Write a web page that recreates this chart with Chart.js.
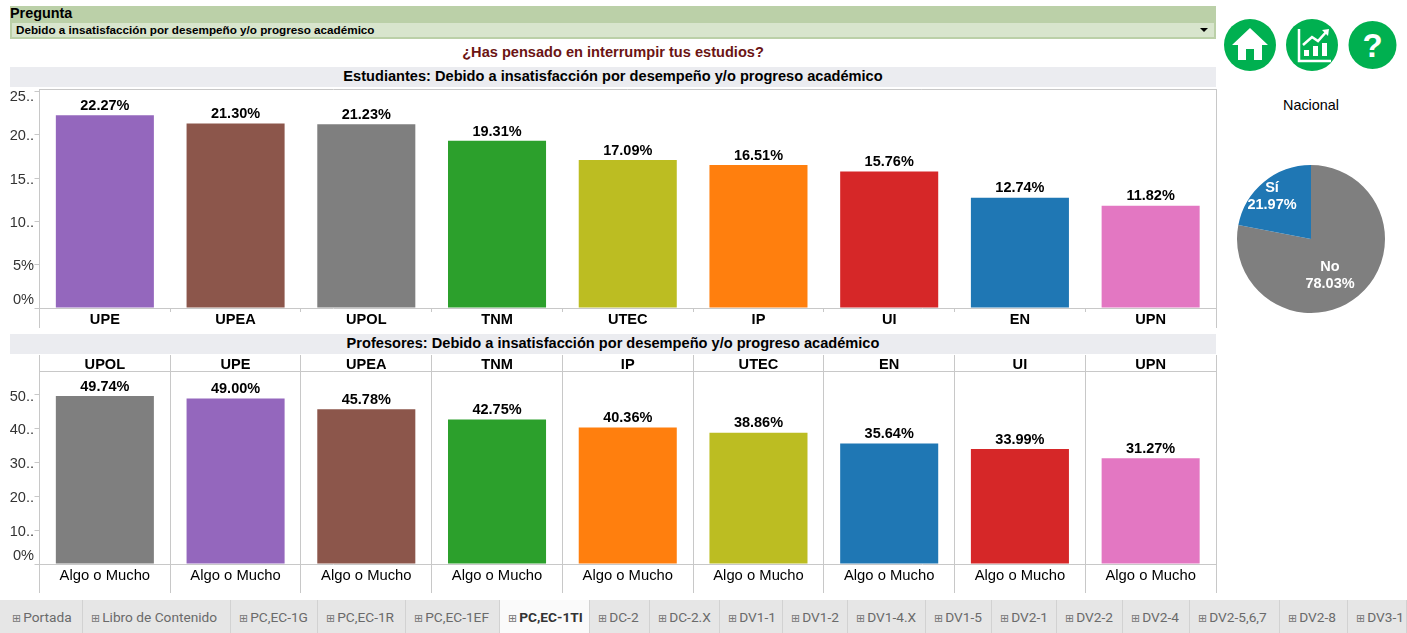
<!DOCTYPE html>
<html lang="es">
<head>
<meta charset="utf-8">
<title>PC,EC-1TI</title>
<script src="https://cdn.jsdelivr.net/npm/chart.js@4"></script>
<style>
  html, body { margin: 0; padding: 0; background: #fff; overflow: hidden; }
  body { width: 1407px; height: 633px; position: relative; font-family: "Liberation Sans", Arial, sans-serif; color: #000; }
  .abs { position: absolute; }
  canvas { position: absolute; display: block; }
  #filter { left: 10px; top: 6px; width: 1206px; height: 33px; background: #bbd0a8; }
  #filterName { left: 0; top: 0; font-weight: bold; font-size: 14.4px; line-height: 15px; }
  #filterBox { left: 2px; top: 17px; width: 1202px; height: 14px; background: #d8e5cd; font-weight: bold; font-size: 11.7px; line-height: 14px; text-indent: 4px; }
  #filterArrow { right: 6px; top: 5px; width: 0; height: 0; border: 4px solid transparent; border-top: 4px solid #000; border-bottom: 0; }
  #mainTitle { left: 10px; top: 44px; width: 1206px; text-align: center; font-weight: bold; font-size: 14.6px; line-height: 17px; color: #6b1414; }
  .band { left: 10px; width: 1206px; height: 20px; background: #ebecf0; text-align: center; font-weight: bold; font-size: 14.6px; line-height: 18px; }
  #nacional { left: 1222px; top: 97px; width: 178px; text-align: center; font-size: 14.4px; line-height: 16px; }
  #tabs { left: 0; top: 600px; width: 1407px; height: 33px; background: #e6e6e6; }
  .tab { position: absolute; top: 0; height: 33px; box-sizing: border-box; border-right: 1px solid #d2d2d2; font-family: Roboto, sans-serif; font-size: 13.7px; line-height: 35px; color: #6a6a6a; white-space: nowrap; overflow: hidden; padding-left: 8px; }
  .tab.active { background: #fafafa; color: #333; font-weight: bold; }
  .tab i { font-family: "DejaVu Sans"; font-style: normal; font-weight: normal; font-size: 11px; margin-right: 2px; color: #777; }
</style>
</head>
<body>
<div id="filter" class="abs">
  <div id="filterName" class="abs">Pregunta</div>
  <div id="filterBox" class="abs">Debido a insatisfacción por desempeño y/o progreso académico<div id="filterArrow" class="abs"></div></div>
</div>
<div id="mainTitle" class="abs">¿Has pensado en interrumpir tus estudios?</div>
<div class="abs band" style="top:67px">Estudiantes: Debido a insatisfacción por desempeño y/o progreso académico</div>
<div class="abs band" style="top:334px">Profesores: Debido a insatisfacción por desempeño y/o progreso académico</div>

<svg class="abs" style="left:1222px;top:17px" width="180" height="56" viewBox="0 0 180 56">
  <circle cx="28" cy="28" r="26" fill="#00b050"/>
  <path d="M28 11 L46 28 L40 28 L40 43 L32 43 L32 32 L24 32 L24 43 L16 43 L16 28 L10 28 Z" fill="#fff"/>
  <circle cx="90" cy="28" r="26" fill="#00b050"/>
  <path d="M77 12 V44 H109" fill="none" stroke="#fff" stroke-width="2.5"/>
  <path d="M82 39 V33 H87 V39 Z M91 39 V29 H96 V39 Z M100 39 V26 H105 V39 Z" fill="#fff"/>
  <path d="M81 28 L90 20 L96 24 L105 14" fill="none" stroke="#fff" stroke-width="2.5"/>
  <path d="M100 13 L107 12 L106 19 Z" fill="#fff"/>
  <circle cx="150.5" cy="28" r="24" fill="#00b050"/>
  <text x="150.5" y="40" text-anchor="middle" font-family="Liberation Sans" font-weight="bold" font-size="33" fill="#fff">?</text>
</svg>
<div id="nacional" class="abs">Nacional</div>

<canvas id="studentsChart" width="1220" height="243" style="left:0;top:85px"></canvas>
<canvas id="teachersChart" width="1220" height="241" style="left:0;top:352px"></canvas>
<canvas id="nationalChart" width="178" height="178" style="left:1222px;top:150px"></canvas>

<div id="tabs" class="abs"></div>

<script>
// Estudiantes
const studentLabels = ['UPE', 'UPEA', 'UPOL', 'TNM', 'UTEC', 'IP', 'UI', 'EN', 'UPN'];
const studentValues = [22.27, 21.30, 21.23, 19.31, 17.09, 16.51, 15.76, 12.74, 11.82];
// Profesores
const teacherLabels = ['UPOL', 'UPE', 'UPEA', 'TNM', 'IP', 'UTEC', 'EN', 'UI', 'UPN'];
const teacherValues = [49.74, 49.00, 45.78, 42.75, 40.36, 38.86, 35.64, 33.99, 31.27];
const teacherAnswer = 'Algo o Mucho';
// Nacional
const nationalLabels = ['No', 'Sí'];
const nationalValues = [78.03, 21.97];

const studentTicks = { 0: '0%', 5: '5%', 10: '10..', 15: '15..', 20: '20..', 25: '25..' };
const teacherTicks = { 0: '0%', 10: '10..', 20: '20..', 30: '30..', 40: '40..', 50: '50..' };

const tabNames = ['Portada', 'Libro de Contenido', 'PC,EC-1G', 'PC,EC-1R', 'PC,EC-1EF', 'PC,EC-1TI', 'DC-2', 'DC-2.X',
  'DV1-1', 'DV1-2', 'DV1-4.X', 'DV1-5', 'DV2-1', 'DV2-2', 'DV2-4', 'DV2-5,6,7', 'DV2-8', 'DV3-1'];
const tabEdges = [4, 83, 231, 318, 406, 500, 590, 650, 720, 783, 848, 926, 992, 1057, 1123, 1190, 1280, 1348, 1407];

const schoolColors = {
  UPE: '#9467bd', UPEA: '#8c564b', UPOL: '#7f7f7f', TNM: '#2ca02c', UTEC: '#bcbd22',
  IP: '#ff7f0e', UI: '#d62728', EN: '#1f77b4', UPN: '#e377c2'
};
const lineColor = '#c8c8c8';

// Tableau tabs along the bottom
const tabsEl = document.getElementById('tabs');
tabNames.forEach((name, i) => {
  const tab = document.createElement('div');
  tab.className = name === 'PC,EC-1TI' ? 'tab active' : 'tab';
  tab.style.left = tabEdges[i] + 'px';
  tab.style.width = (tabEdges[i + 1] - tabEdges[i]) + 'px';
  tab.innerHTML = '<i>⊞</i>' + name;
  tabsEl.appendChild(tab);
});

// Value labels on top of the bars
const barValuePlugin = {
  id: 'barValue',
  afterDatasetsDraw(chart) {
    const ctx = chart.ctx;
    ctx.save();
    ctx.font = 'bold 14.5px "Liberation Sans"';
    ctx.fillStyle = '#000';
    ctx.textAlign = 'center';
    ctx.textBaseline = 'bottom';
    chart.getDatasetMeta(0).data.forEach((bar, i) => {
      ctx.fillText(chart.data.datasets[0].data[i].toFixed(2) + '%', bar.x, bar.y - 2);
    });
    ctx.restore();
  }
};

// Y labels are shortened by Tableau, and pushed inside the pane at both ends
const yLabelPlugin = {
  id: 'yLabels',
  afterDraw(chart, args, opts) {
    const ctx = chart.ctx;
    const scale = chart.scales.y;
    ctx.save();
    ctx.font = '14.6px "Liberation Sans"';
    ctx.fillStyle = '#333';
    ctx.textAlign = 'right';
    ctx.textBaseline = 'middle';
    Object.keys(opts.labels).forEach(key => {
      const y = scale.getPixelForValue(Number(key));
      let shift = 1.5;
      if (y > chart.chartArea.bottom - 5) shift = -8;
      if (y < chart.chartArea.top + 5) shift = 5.5;
      ctx.fillText(opts.labels[key], 34, y + shift);
    });
    ctx.restore();
  }
};

// Pane lines that the axes do not draw
const framePlugin = {
  id: 'frame',
  afterDraw(chart) {
    const ctx = chart.ctx;
    const area = chart.chartArea;
    ctx.save();
    ctx.strokeStyle = lineColor;
    ctx.lineWidth = 1;
    ctx.beginPath();
    ctx.moveTo(Math.floor(area.left) + 0.5, area.top > 10 ? 3 : area.top);
    ctx.lineTo(Math.floor(area.left) + 0.5, chart.height);
    ctx.moveTo(Math.floor(area.right) + 0.5, area.top > 10 ? 3 : area.top);
    ctx.lineTo(Math.floor(area.right) + 0.5, chart.height);
    ctx.moveTo(area.left, Math.round(area.top) + 0.5);
    ctx.lineTo(area.right, Math.round(area.top) + 0.5);
    ctx.stroke();
    ctx.restore();
  }
};

function fixedSize(px) {
  return scale => { scale.height = px; };
}

function yAxis(max, step) {
  return {
    min: 0,
    max: max,
    afterFit(scale) { scale.width = 39.5; },
    border: { color: lineColor },
    grid: { drawOnChartArea: false, tickLength: 5, color: lineColor },
    ticks: { stepSize: step, includeBounds: false, display: false }
  };
}

const xLabelFont = { family: '"Liberation Sans"', size: 14.6, weight: 'bold' };

// Estudiantes Bar Chart
const studentsChart = new Chart(document.getElementById('studentsChart'), {
  type: 'bar',
  data: {
    labels: studentLabels,
    datasets: [{
      data: studentValues,
      backgroundColor: studentLabels.map(name => schoolColors[name]),
      barPercentage: 0.75,
      categoryPercentage: 1
    }]
  },
  options: {
    responsive: false,
    animation: false,
    layout: { padding: { top: 4, right: 4 } },
    plugins: { legend: { display: false }, tooltip: { enabled: false }, yLabels: { labels: studentTicks } },
    scales: {
      x: {
        afterFit: fixedSize(20),
        border: { color: lineColor },
        grid: { drawOnChartArea: false, tickLength: 4, color: lineColor },
        ticks: { color: '#000', font: xLabelFont, padding: -1, maxRotation: 0, autoSkip: false }
      },
      y: yAxis(25.3, 5)
    }
  },
  plugins: [barValuePlugin, yLabelPlugin, framePlugin]
});

// Profesores Bar Chart
const teachersChart = new Chart(document.getElementById('teachersChart'), {
  type: 'bar',
  data: {
    labels: teacherLabels,
    datasets: [{
      data: teacherValues,
      backgroundColor: teacherLabels.map(name => schoolColors[name]),
      barPercentage: 0.75,
      categoryPercentage: 1
    }]
  },
  options: {
    responsive: false,
    animation: false,
    layout: { padding: { right: 4 } },
    plugins: { legend: { display: false }, tooltip: { enabled: false }, yLabels: { labels: teacherTicks } },
    scales: {
      x: {
        afterFit: fixedSize(29),
        border: { color: lineColor },
        grid: { tickLength: 29, color: lineColor },
        ticks: {
          color: '#000', font: { family: '"Liberation Sans"', size: 14.8 }, padding: -26, maxRotation: 0, autoSkip: false,
          callback: () => teacherAnswer
        }
      },
      x2: {
        type: 'category',
        position: 'top',
        offset: true,
        afterFit: fixedSize(19),
        border: { color: lineColor },
        grid: { drawOnChartArea: false, tickLength: 16, color: lineColor },
        ticks: { color: '#000', font: xLabelFont, padding: -19, maxRotation: 0, autoSkip: false }
      },
      y: yAxis(57.1, 10)
    }
  },
  plugins: [barValuePlugin, yLabelPlugin, framePlugin]
});

// Nacional pie
const pieLabelPlugin = {
  id: 'pieLabels',
  afterDatasetsDraw(chart) {
    const ctx = chart.ctx;
    const offsets = [[19, 37], [-39, -42]];
    ctx.save();
    ctx.font = 'bold 14.5px "Liberation Sans"';
    ctx.fillStyle = '#fff';
    ctx.textAlign = 'center';
    ctx.textBaseline = 'middle';
    chart.getDatasetMeta(0).data.forEach((arc, i) => {
      const x = arc.x + offsets[i][0];
      const y = arc.y + offsets[i][1];
      ctx.fillText(chart.data.labels[i], x, y - 9);
      ctx.fillText(chart.data.datasets[0].data[i].toFixed(2) + '%', x, y + 8);
    });
    ctx.restore();
  }
};

const nationalChart = new Chart(document.getElementById('nationalChart'), {
  type: 'pie',
  data: {
    labels: nationalLabels,
    datasets: [{
      data: nationalValues,
      backgroundColor: ['#7f7f7f', '#1f77b4'],
      borderWidth: 0
    }]
  },
  options: {
    responsive: false,
    animation: false,
    layout: { padding: 15 },
    plugins: { legend: { display: false }, tooltip: { enabled: false } }
  },
  plugins: [pieLabelPlugin]
});
</script>
</body>
</html>
